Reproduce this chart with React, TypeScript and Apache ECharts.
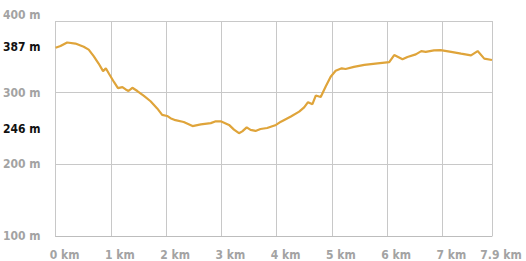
import React, { useEffect, useRef } from "react";
import * as echarts from "echarts";

const distanceKm = [
  0.0, 0.09, 0.21, 0.36, 0.51, 0.6, 0.69, 0.78, 0.86, 0.91, 0.97, 1.06, 1.13, 1.21, 1.27, 1.32, 1.39, 1.48,
  1.6, 1.72, 1.84, 1.93, 2.02, 2.08, 2.17, 2.32, 2.48, 2.63, 2.81, 2.9, 2.99, 3.14, 3.23, 3.32, 3.38, 3.46,
  3.53, 3.62, 3.71, 3.83, 3.99, 4.08, 4.26, 4.41, 4.5, 4.57, 4.65, 4.71, 4.8, 4.89, 4.98, 5.07, 5.18, 5.25,
  5.4, 5.59, 5.83, 6.04, 6.13, 6.28, 6.37, 6.52, 6.62, 6.7, 6.85, 6.97, 7.16, 7.34, 7.52, 7.64, 7.76, 7.9,
];
const elevationM = [
  362.6, 365, 370, 368.5, 364, 360, 351, 340.6, 330, 334, 326, 314.6, 306.4, 307.8, 304.5, 302.3, 306.8, 302.3,
  295.5, 288, 278, 269, 267.5, 264.4, 261.6, 259, 253.4, 255.7, 257.5, 260, 260, 255, 248.4, 243.4, 246, 251.6,
  248, 246.6, 249.3, 250.7, 255, 259.5, 266.7, 273.5, 279.5, 286.8, 284, 296, 294, 308.7, 322.3, 330.6, 334, 333,
  336, 338.8, 341, 342.5, 352.5, 346.6, 349.7, 353.4, 358, 357, 359, 359.4, 357, 354.4, 352, 358, 347.5, 345.6,
];
// extreme labels shown on the elevation axis
const extremeTexts = ["387 m", "246 m"];
const extremeAt = [364, 249];

const yTicks = [100, 200, 300, 400];
const xMax = 7.9;

const FONT = "'DejaVu Sans Condensed', 'DejaVu Sans', sans-serif";

export default function App() {
  const ref = useRef<HTMLDivElement>(null);
  useEffect(() => {
    if (!ref.current) return;
    const chart = echarts.init(ref.current, undefined, { renderer: "svg" });
    chart.setOption({
      animation: false,
      grid: { left: 55, right: 34, top: 21, bottom: 21, containLabel: false },
      xAxis: {
        type: "value",
        min: 0,
        max: xMax,
        interval: 1,
        axisLine: { show: true, lineStyle: { color: "#bdbdbd", width: 1 } },
        axisTick: { show: false },
        splitLine: { show: true, lineStyle: { color: "#c8c8c8", width: 1 } },
        axisLabel: {
          margin: 13,
          color: "#a3a3a3",
          fontFamily: FONT,
          fontWeight: "bold",
          fontSize: 12,
          padding: [0, 0, 0, 18],
          formatter: (v: number) => `${Math.round(v * 10) / 10} km`,
          showMaxLabel: true,
        },
      },
      yAxis: [
        {
          type: "value",
          min: yTicks[0],
          max: yTicks[yTicks.length - 1],
          interval: 100,
          axisLine: { show: false },
          axisTick: { show: false },
          splitLine: { show: true, lineStyle: { color: "#c8c8c8", width: 1 } },
          axisLabel: {
            margin: 15,
            color: "#a3a3a3",
            fontFamily: FONT,
            fontWeight: "bold",
            fontSize: 12,
            verticalAlignMaxLabel: "bottom",
            formatter: (v: number) => `${v} m`,
          },
        },
        {
          type: "value",
          position: "left",
          min: yTicks[0],
          max: yTicks[yTicks.length - 1],
          axisLine: { show: false },
          axisTick: { show: false },
          splitLine: { show: false },
          axisLabel: {
            margin: 15,
            color: "#111",
            fontFamily: FONT,
            fontWeight: "bold",
            fontSize: 12,
            customValues: extremeAt,
            formatter: (v: number) => extremeTexts[extremeAt.indexOf(v)] ?? "",
          },
        },
      ],
      series: [
        {
          type: "line",
          yAxisIndex: 0,
          data: distanceKm.map((d, i) => [d, elevationM[i]]),
          showSymbol: false,
          symbol: "none",
          lineStyle: { color: "#DFA43A", width: 2.2 },
        },
      ],
    });
    return () => chart.dispose();
  }, []);
  return (
    <div
      ref={ref}
      style={{ position: "absolute", left: 0, top: 0, width: 526, height: 261, background: "#fff" }}
    />
  );
}
